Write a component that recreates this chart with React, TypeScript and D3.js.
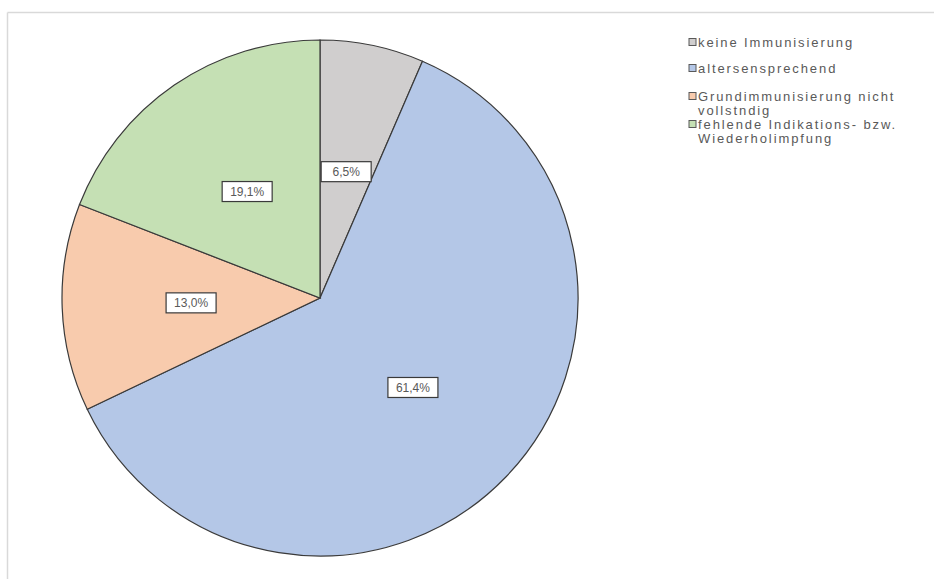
import React from "react";
import * as d3 from "d3";

const categories = [
  "keine Immunisierung",
  "altersensprechend",
  "Grundimmunisierung nicht vollstndig",
  "fehlende Indikations- bzw. Wiederholimpfung",
];
const legendLines = [
  ["keine Immunisierung"],
  ["altersensprechend"],
  ["Grundimmunisierung nicht", "vollstndig"],
  ["fehlende Indikations- bzw.", "Wiederholimpfung"],
];
const values = [6.5, 61.4, 13.0, 19.1];
const labels = ["6,5%", "61,4%", "13,0%", "19,1%"];
const colors = ["#d0cece", "#b4c7e7", "#f8cbad", "#c5e0b4"];

export default function App() {
  const W = 934, H = 579;
  const cx = 320, cy = 298, R = 258;
  const pie = d3.pie<number>().sort(null).value((d) => d);
  const arcs = pie(values);
  const arc = d3.arc<d3.PieArcDatum<number>>().innerRadius(0).outerRadius(R);
  const labelArc = d3.arc<d3.PieArcDatum<number>>().innerRadius(R * 0.5).outerRadius(R * 0.5);
  const legendY = [42, 68, 96, 124];
  return (
    <svg width={W} height={H} style={{ position: "absolute", left: 0, top: 0, background: "#fff" }}
      fontFamily="'Liberation Sans', Arial, sans-serif">
      <line x1={7.5} y1={12.5} x2={W} y2={12.5} stroke="#d9d9d9" strokeWidth={1.5} />
      <line x1={7.5} y1={12.5} x2={7.5} y2={H} stroke="#d9d9d9" strokeWidth={1.5} />
      <g transform={`translate(${cx},${cy})`}>
        {arcs.map((a, i) => (
          <path key={i} d={arc(a) || ""} fill={colors[i]} stroke="#3a3a3a" strokeWidth={1.2} />
        ))}
        {arcs.map((a, i) => {
          const [x, y] = labelArc.centroid(a);
          const bw = 50, bh = 20;
          return (
            <g key={"l" + i} transform={`translate(${x},${y})`}>
              <rect x={-bw / 2} y={-bh / 2} width={bw} height={bh} fill="#fff" stroke="#3a3a3a" strokeWidth={1.2} />
              <text textAnchor="middle" dy="0.35em" fontSize={12} fill="#595959">{labels[i]}</text>
            </g>
          );
        })}
      </g>
      <g>
        {categories.map((c, i) => (
          <g key={c} transform={`translate(689,${legendY[i]})`}>
            <rect x={0} y={-3.5} width={7} height={7} fill={colors[i]} stroke="#595959" strokeWidth={1} />
            {legendLines[i].map((t, j) => (
              <text key={j} x={9} y={j * 14} dy="0.35em" fontSize={13} letterSpacing={1.9} fill="#595959">{t}</text>
            ))}
          </g>
        ))}
      </g>
    </svg>
  );
}
